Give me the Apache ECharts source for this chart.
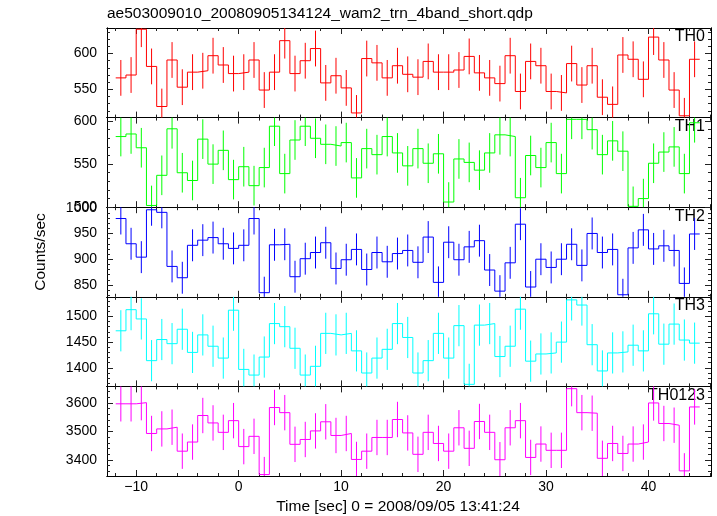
<!DOCTYPE html>
<html>
<head>
<meta charset="utf-8">
<script src="https://cdn.jsdelivr.net/npm/echarts@6/dist/echarts.min.js"></script>
<style>html,body{margin:0;padding:0;background:#fff;}#c{width:717px;height:516px;}</style>
</head>
<body>
<div id="c"></div>
<script>
// ---- data ----
const binTime = [-11.5,-10.5,-9.5,-8.5,-7.5,-6.5,-5.5,-4.5,-3.5,-2.5,-1.5,-0.5,0.5,1.5,2.5,3.5,4.5,5.5,6.5,7.5,8.5,9.5,10.5,11.5,12.5,13.5,14.5,
  15.5,16.5,17.5,18.5,19.5,20.5,21.5,22.5,23.5,24.5,25.5,26.5,27.5,28.5,29.5,30.5,31.5,32.5,33.5,34.5,35.5,36.5,37.5,38.5,39.5,40.5,41.5,42.5,43.5,44.5];
const binHalfWidth = 0.5;

const th0 = [566,570,634,582,526,591,553,574,576,597,584,572,574,591,549,574,618,572,590,607,559,569,552,517,593,587,566,
  583,571,567,589,574,574,577,596,573,566,558,597,547,589,583,547,545,586,556,583,539,529,598,592,564,623,591,549,513,592];
const th1 = [582,585,569,502,537,591,540,531,579,550,566,532,547,525,546,594,539,578,594,580,573,571,575,534,568,561,582,
  563,548,568,551,562,506,556,552,543,563,584,582,511,560,546,575,539,602,602,590,561,577,565,501,510,551,564,570,539,598];
const th2 = [979,930,904,996,991,886,864,927,937,942,930,921,927,979,835,928,929,866,901,913,932,882,899,919,880,913,895,
  911,917,894,943,855,933,899,924,936,879,838,893,968,846,900,884,900,929,888,950,913,919,831,922,957,920,926,917,853,949];
const th3 = [1472,1513,1495,1414,1455,1447,1475,1430,1464,1442,1419,1512,1397,1386,1421,1486,1480,1438,1386,1403,1467,1464,1467,1433,1390,1419,1436,
  1486,1459,1390,1414,1467,1419,1482,1368,1483,1486,1422,1442,1514,1413,1427,1429,1450,1532,1522,1445,1394,1429,1431,1444,1433,1505,1446,1485,1454,1448];
const th0123 = [3597,3597,3601,3493,3509,3515,3431,3463,3556,3530,3497,3538,3447,3483,3349,3584,3566,3455,3472,3502,3534,3486,3493,3402,3431,3479,3479,
  3542,3495,3420,3497,3458,3431,3513,3441,3535,3497,3401,3513,3538,3409,3456,3434,3434,3650,3566,3564,3406,3458,3423,3456,3463,3600,3528,3522,3362,3586];

const errTH0 = 25, errTH1 = 23, errTH2 = 31, errTH3 = 40, errTH0123 = 62;

const panelNames = ['TH0','TH1','TH2','TH3','TH0123'];
const xTickLabels = [-10, 0, 10, 20, 30, 40];
const yTickTH0 = [550, 600];
const yTickTH1 = [500, 550, 600];
const yTickTH2 = [850, 900, 950, 1000];
const yTickTH3 = [1400, 1450, 1500];
const yTickTH0123 = [3400, 3500, 3600];

const titleText = 'ae503009010_20080905134124_wam2_trn_4band_short.qdp';
const xTitle = 'Time [sec] 0 = 2008/09/05 13:41:24';
const yTitle = 'Counts/sec';

// ---- layout / style ----
const FONT = '"Liberation Sans", Arial, sans-serif';
const xMin = -12.85, xMax = 46.1;
const panels = [
  {vals: th0, err: errTH0, color: '#ff0000', yMin: 510.5, yMax: 635.7, ticks: yTickTH0, minorStep: 10},
  {vals: th1, err: errTH1, color: '#00ff00', yMin: 500, yMax: 604, ticks: yTickTH1, minorStep: 10},
  {vals: th2, err: errTH2, color: '#0000ff', yMin: 827, yMax: 1001, ticks: yTickTH2, minorStep: 10},
  {vals: th3, err: errTH3, color: '#00ffff', yMin: 1364, yMax: 1538, ticks: yTickTH3, minorStep: 10},
  {vals: th0123, err: errTH0123, color: '#ff00ff', yMin: 3344, yMax: 3658, ticks: yTickTH0123, minorStep: 20}
];
const top0 = 28, ph = 89.6, left = 107, right = 6;

function stepsBetween(a, b, s) {
  const out = [];
  for (let v = Math.ceil(a / s) * s; v <= b + 1e-9; v += s) out.push(Math.round(v * 1000) / 1000);
  return out;
}
const xMinor = stepsBetween(xMin, xMax, 2);

const grids = [], xAxes = [], yAxes = [], series = [], graphics = [];
const tickColor = '#222';

panels.forEach((p, i) => {
  const top = top0 + i * ph;
  grids.push({left: left, right: right, top: top, height: ph, containLabel: false});
  const mkX = (pos, ticks, len, lbl) => ({
    type: 'value', gridIndex: i, min: xMin, max: xMax, position: pos,
    axisLine: {show: true, onZero: false, lineStyle: {color: '#000', width: 1}},
    axisTick: {show: true, inside: true, length: len, customValues: ticks, lineStyle: {color: tickColor}},
    axisLabel: {show: lbl, customValues: ticks, fontFamily: FONT, fontSize: 14, color: '#000', margin: 4,
      formatter: v => (v < 0 ? '\u2212' + Math.abs(v) : String(v))},
    splitLine: {show: false}
  });
  xAxes.push(mkX('bottom', xTickLabels, 6, i === panels.length - 1));
  xAxes.push(mkX('bottom', xMinor, 3, false));
  xAxes.push(mkX('top', xTickLabels, 6, false));
  xAxes.push(mkX('top', xMinor, 3, false));
  const yMinor = stepsBetween(p.yMin, p.yMax, p.minorStep);
  const mkY = (pos, ticks, len, lbl) => ({
    type: 'value', gridIndex: i, min: p.yMin, max: p.yMax, position: pos,
    axisLine: {show: true, onZero: false, lineStyle: {color: '#000', width: 1}},
    axisTick: {show: true, inside: true, length: len, customValues: ticks, lineStyle: {color: tickColor}},
    axisLabel: {show: lbl, customValues: ticks, fontFamily: FONT, fontSize: 14, color: '#000', margin: 10,
      formatter: v => String(v)},
    splitLine: {show: false}
  });
  const yBase = yAxes.length;
  yAxes.push(mkY('left', p.ticks, 6, true));
  yAxes.push(mkY('left', yMinor, 3, false));
  yAxes.push(mkY('right', p.ticks, 6, false));
  yAxes.push(mkY('right', yMinor, 3, false));
  const xBase = i * 4;

  const stepData = binTime.map((t, k) => [t - binHalfWidth, p.vals[k]]);
  stepData.push([binTime[binTime.length - 1] + binHalfWidth, p.vals[p.vals.length - 1]]);
  series.push({
    type: 'line', xAxisIndex: xBase, yAxisIndex: yBase, step: 'end', data: stepData,
    showSymbol: false, symbol: 'none', lineStyle: {color: p.color, width: 1}, itemStyle: {color: p.color},
    animation: false, silent: true
  });
  series.push({
    type: 'custom', xAxisIndex: xBase, yAxisIndex: yBase,
    data: binTime.map((t, k) => [t, p.vals[k], p.err]),
    renderItem: (params, api) => {
      const t = api.value(0), v = api.value(1), e = api.value(2);
      const lo = Math.max(v - e, p.yMin), hi = Math.min(v + e, p.yMax);
      const a = api.coord([t, lo]), b = api.coord([t, hi]);
      return {type: 'line', shape: {x1: a[0], y1: a[1], x2: b[0], y2: b[1]},
        style: {stroke: p.color, lineWidth: 1}};
    },
    animation: false, silent: true
  });
  graphics.push({type: 'text', x: 705, y: top + 1,
    style: {text: panelNames[i], font: '16px ' + FONT, fill: '#000', textAlign: 'right', textVerticalAlign: 'top'}});
});

graphics.push({type: 'text', x: 107, y: 6,
  style: {text: titleText, font: '15.5px ' + FONT, fill: '#000', textAlign: 'left', textVerticalAlign: 'top'}});
graphics.push({type: 'text', x: 398, y: 507,
  style: {text: xTitle, font: '15.5px ' + FONT, fill: '#000', textAlign: 'center', textVerticalAlign: 'middle'}});
graphics.push({type: 'text', x: 41, y: 252, rotation: Math.PI / 2,
  style: {text: yTitle, font: '15.5px ' + FONT, fill: '#000', textAlign: 'center', textVerticalAlign: 'middle'}});

const chart = echarts.init(document.getElementById('c'), null, {renderer: 'canvas'});
chart.setOption({
  animation: false,
  backgroundColor: '#fff',
  grid: grids, xAxis: xAxes, yAxis: yAxes, series: series, graphic: graphics
});
</script>
</body>
</html>
